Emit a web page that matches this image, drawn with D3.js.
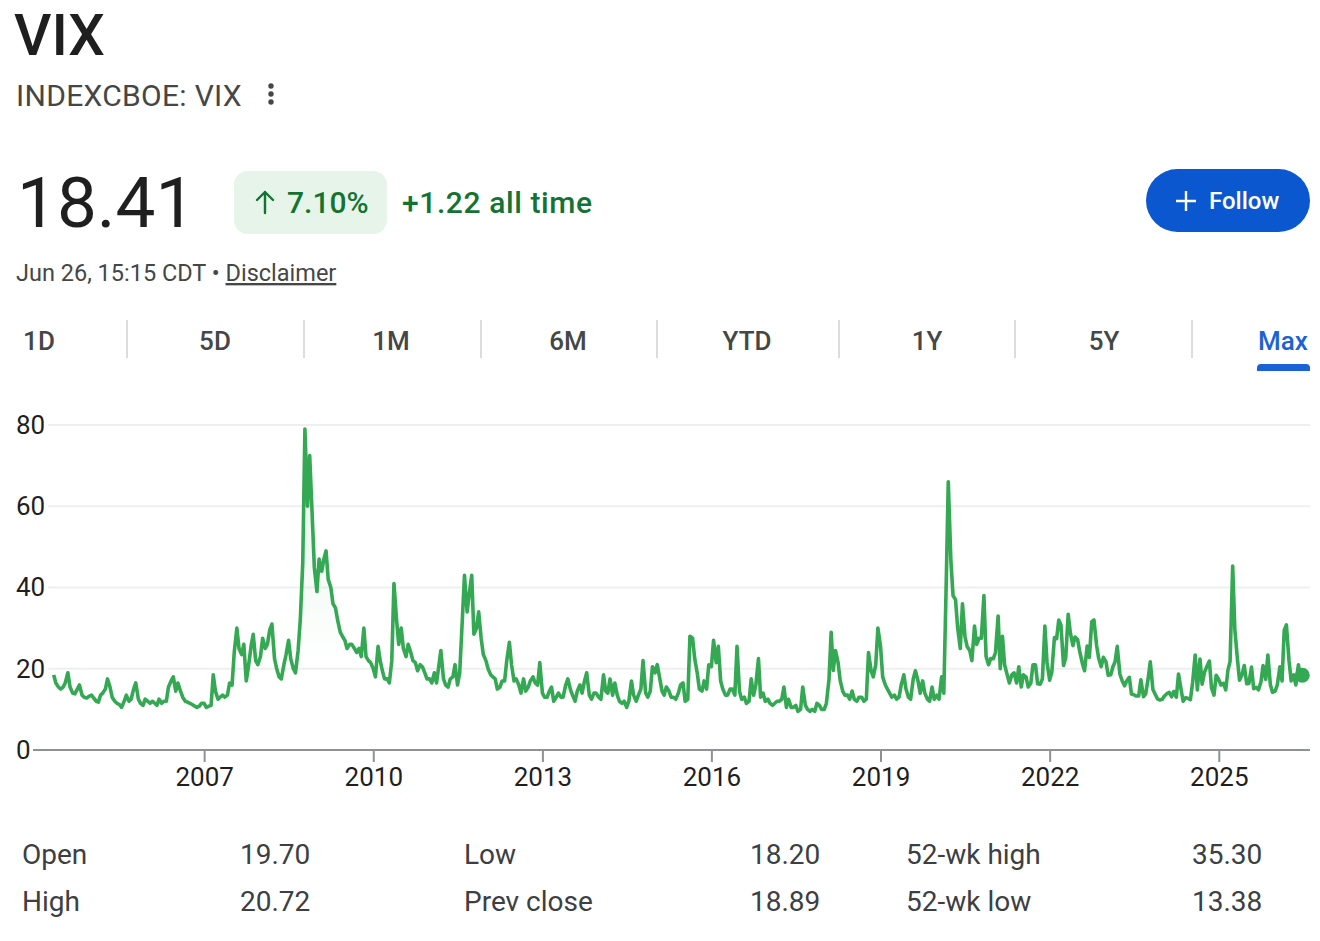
<!DOCTYPE html>
<html>
<head>
<meta charset="utf-8">
<script src="https://cdn.jsdelivr.net/npm/d3@7"></script>
<style>
body { margin: 0; background: #fff; }
text { font-family: Roboto, "Noto Sans", Arial, sans-serif; }
</style>
</head>
<body>
<script>
// VIX closes, two per month (1st and 15th)
var vix2004 = [18.5, 16.5, 15.5, 15.0, 15.5, 16.5, 19.0, 15.5, 14.0, 13.8, 15.0, 16.0, 13.5, 13.0, 12.8, 13.2]; // from May
var vix2005 = [13.5, 12.8, 12.0, 11.8, 13.5, 14.0, 15.0, 17.5, 15.5, 13.0, 12.0, 11.5, 11.2, 10.5, 12.0, 13.5, 12.0, 12.5, 15.0, 16.5, 12.5, 11.5, 11.0, 12.5];
var vix2006 = [12.0, 11.5, 12.0, 11.5, 11.0, 12.5, 11.5, 12.0, 12.0, 15.5, 17.0, 18.0, 14.5, 16.5, 14.5, 13.0, 12.0, 11.8, 11.5, 11.2, 10.8, 10.5, 10.8, 11.5];
var vix2007 = [11.5, 10.5, 10.8, 11.0, 18.5, 14.5, 12.5, 13.0, 13.5, 13.0, 13.5, 16.5, 16.0, 24.0, 30.0, 25.0, 23.5, 26.0, 17.0, 20.5, 25.5, 28.5, 22.0, 21.0];
var vix2008 = [23.0, 27.5, 25.0, 26.0, 29.5, 31.0, 22.5, 20.0, 18.0, 17.5, 21.0, 23.5, 27.0, 22.5, 20.0, 19.0, 24.5, 32.0, 46.0, 79.0, 60.0, 72.5, 58.0, 45.0];
var vix2009 = [39.0, 47.0, 44.0, 47.0, 49.0, 42.0, 40.0, 36.0, 35.0, 32.0, 29.0, 28.0, 27.0, 25.0, 26.0, 26.0, 25.0, 24.0, 25.0, 23.0, 30.0, 23.0, 22.0, 21.5];
var vix2010 = [20.0, 18.0, 25.5, 22.0, 19.5, 17.5, 17.5, 16.5, 22.0, 41.0, 32.0, 26.0, 30.0, 25.0, 23.0, 26.0, 24.0, 22.0, 21.5, 19.5, 21.0, 20.5, 19.0, 17.5];
var vix2011 = [17.5, 16.5, 19.0, 16.5, 20.5, 24.5, 17.5, 16.0, 15.5, 17.5, 18.0, 21.0, 16.0, 19.0, 32.0, 43.0, 34.0, 38.5, 43.0, 28.5, 30.0, 34.0, 27.5, 23.5];
var vix2012 = [22.0, 20.0, 18.5, 18.0, 17.5, 15.0, 15.5, 17.0, 17.0, 22.0, 26.5, 21.0, 17.0, 17.5, 16.0, 14.0, 17.5, 14.5, 15.5, 17.0, 18.0, 16.5, 16.0, 21.5];
var vix2013 = [14.0, 13.0, 13.0, 14.5, 15.5, 12.0, 13.0, 14.0, 13.0, 13.0, 16.0, 17.5, 15.0, 13.5, 12.0, 14.5, 16.0, 14.0, 17.0, 19.0, 13.5, 12.5, 14.0, 14.0];
var vix2014 = [13.0, 12.5, 18.5, 14.5, 14.0, 17.5, 13.5, 16.5, 13.5, 12.0, 11.5, 12.0, 10.5, 12.0, 17.0, 13.5, 12.0, 13.5, 15.0, 22.0, 14.0, 13.0, 14.5, 20.5];
var vix2015 = [19.0, 21.0, 17.5, 14.5, 13.5, 15.5, 14.5, 13.0, 13.0, 12.5, 14.0, 16.0, 16.5, 12.0, 12.5, 28.0, 27.5, 22.5, 19.0, 15.0, 14.5, 17.0, 15.0, 21.0];
var vix2016 = [20.5, 27.0, 21.5, 25.5, 17.0, 15.0, 13.5, 13.5, 15.0, 15.0, 13.5, 25.5, 14.5, 12.5, 13.0, 11.5, 12.0, 17.5, 13.5, 16.0, 22.5, 13.0, 14.0, 12.0];
var vix2017 = [12.5, 11.5, 11.0, 11.5, 12.0, 12.0, 12.5, 15.5, 10.5, 12.5, 10.5, 10.5, 11.0, 9.5, 10.0, 15.5, 11.0, 10.0, 9.5, 10.0, 9.5, 11.5, 11.0, 10.0];
var vix2018 = [10.0, 11.5, 17.3, 29.0, 19.6, 24.5, 21.5, 17.0, 14.5, 13.5, 13.5, 12.5, 14.5, 12.5, 12.0, 13.0, 13.0, 12.0, 12.5, 24.0, 19.5, 18.0, 21.0, 30.0];
var vix2019 = [25.5, 18.0, 16.0, 15.0, 14.0, 13.0, 13.5, 12.5, 13.0, 16.0, 18.5, 15.0, 13.0, 12.5, 17.5, 19.5, 17.0, 14.0, 17.0, 14.0, 12.5, 12.0, 15.5, 12.5];
var vix2020 = [13.5, 12.5, 18.0, 14.0, 40.0, 66.0, 46.5, 38.0, 37.0, 30.0, 25.0, 36.0, 28.0, 25.5, 24.5, 22.0, 30.5, 26.0, 27.5, 27.5, 38.0, 23.0, 21.0, 22.5];
var vix2021 = [22.5, 24.0, 33.0, 20.0, 28.0, 21.0, 18.5, 16.5, 18.5, 19.0, 16.5, 20.5, 15.5, 18.5, 18.0, 15.5, 16.5, 21.0, 21.0, 16.3, 16.2, 17.5, 30.5, 21.5];
var vix2022 = [17.2, 19.2, 27.7, 27.4, 32.0, 30.8, 20.8, 22.7, 33.4, 28.9, 25.7, 27.8, 27.2, 24.2, 21.3, 19.5, 25.6, 22.8, 31.6, 32.0, 25.8, 22.5, 20.5, 22.8];
var vix2023 = [21.7, 18.4, 18.5, 20.5, 21.7, 25.5, 18.7, 17.1, 15.8, 17.0, 17.9, 13.8, 13.6, 13.3, 13.3, 17.3, 13.1, 13.8, 17.5, 21.7, 14.9, 13.8, 12.6, 12.3];
var vix2024 = [12.5, 13.3, 13.9, 14.2, 13.1, 14.4, 13.0, 18.7, 15.0, 12.0, 12.9, 12.7, 12.4, 16.5, 23.4, 14.8, 22.4, 16.2, 19.2, 20.5, 21.9, 15.2, 13.5, 18.4];
var vix2025 = [17.3, 16.0, 16.4, 14.8, 19.6, 21.8, 45.3, 29.7, 22.7, 17.2, 18.6, 20.8, 16.3, 16.4, 20.4, 15.1, 15.4, 14.8, 16.7, 20.8, 17.4, 23.4, 16.1, 14.2];
var vix2026 = [14.5, 16.0, 20.5, 17.0, 29.5, 30.8, 22.0, 17.0, 18.5, 16.0, 21.0, 17.5]; // to mid June
var lastDate = new Date(2026, 5, 26);
var lastClose = 18.41;

var yTicks = [0, 20, 40, 60, 80];
var xTickYears = [2007, 2010, 2013, 2016, 2019, 2022, 2025];
var tabs = ["1D", "5D", "1M", "6M", "YTD", "1Y", "5Y", "Max"];
var statLabels = [["Open", "High"], ["Low", "Prev close"], ["52-wk high", "52-wk low"]];
var statValues = [["19.70", "20.72"], ["18.20", "18.89"], ["35.30", "13.38"]];

var yearly = [
    [2004, 4, vix2004], [2005, 0, vix2005], [2006, 0, vix2006], [2007, 0, vix2007],
    [2008, 0, vix2008], [2009, 0, vix2009], [2010, 0, vix2010], [2011, 0, vix2011],
    [2012, 0, vix2012], [2013, 0, vix2013], [2014, 0, vix2014], [2015, 0, vix2015],
    [2016, 0, vix2016], [2017, 0, vix2017], [2018, 0, vix2018], [2019, 0, vix2019],
    [2020, 0, vix2020], [2021, 0, vix2021], [2022, 0, vix2022], [2023, 0, vix2023],
    [2024, 0, vix2024], [2025, 0, vix2025], [2026, 0, vix2026]
];

var series = [];
yearly.forEach(function(yr) {
    yr[2].forEach(function(v, i) {
        series.push({date: new Date(yr[0], yr[1] + Math.floor(i / 2), i % 2 ? 15 : 1), value: v});
    });
});
series.push({date: lastDate, value: lastClose});

var w = 1320;
var h = 941;
var green = "#34a853";
var upText = "#137333";
var ink = "#1f1f1f";
var grey = "#444746";

var svg = d3.select("body")
            .append("svg")
                .attr("width", w)
                .attr("height", h);

// ---- header ----
svg.append("text").text("VIX")
    .attr("x", 14).attr("y", 55)
    .attr("font-size", 58).attr("font-weight", 500).attr("fill", ink);

svg.append("text").text("INDEXCBOE: VIX")
    .attr("x", 16).attr("y", 106)
    .attr("font-size", 30).attr("letter-spacing", 0.3).attr("fill", grey);

svg.selectAll("circle.dot")
    .data([86, 94, 102])
    .enter()
    .append("circle")
        .attr("class", "dot")
        .attr("cx", 271).attr("cy", function(d) {return d;})
        .attr("r", 2.7).attr("fill", grey);

svg.append("text").text("18.41")
    .attr("x", 17).attr("y", 227)
    .attr("font-size", 71).attr("fill", ink);

svg.append("rect")
    .attr("x", 234).attr("y", 171).attr("width", 153).attr("height", 63)
    .attr("rx", 14).attr("fill", "#e6f4ea");

svg.append("path")
    .attr("d", "M265,213V192M257,200L265,192L273,200")
    .attr("fill", "none").attr("stroke", upText)
    .attr("stroke-width", 2.4).attr("stroke-linecap", "round").attr("stroke-linejoin", "round");

svg.append("text").text("7.10%")
    .attr("x", 287).attr("y", 213)
    .attr("font-size", 30).attr("font-weight", 500).attr("fill", upText);

svg.append("text").text("+1.22 all time")
    .attr("x", 402).attr("y", 213)
    .attr("font-size", 30).attr("font-weight", 500).attr("letter-spacing", 0.6).attr("fill", upText);

svg.append("rect")
    .attr("x", 1146).attr("y", 169).attr("width", 164).attr("height", 63)
    .attr("rx", 31.5).attr("fill", "#0b57d0");

svg.append("path")
    .attr("d", "M1176,201H1196M1186,191V211")
    .attr("stroke", "#fff").attr("stroke-width", 2.4);

svg.append("text").text("Follow")
    .attr("x", 1209).attr("y", 209)
    .attr("font-size", 24).attr("font-weight", 500).attr("fill", "#fff");

var stamp = svg.append("text")
    .attr("x", 16).attr("y", 281)
    .attr("font-size", 23.5).attr("fill", grey);
stamp.append("tspan").text("Jun 26, 15:15 CDT \u2022 ");
stamp.append("tspan").text("Disclaimer").attr("text-decoration", "underline");

// ---- range tabs ----
var tabX = [39, 215, 391, 568, 747, 927, 1104, 1283];
var sepX = [127, 304, 481, 657, 839, 1015, 1192];

svg.selectAll("text.tab")
    .data(tabs)
    .enter()
    .append("text")
    .attr("class", "tab")
    .text(function(d) {return d;})
        .attr("x", function(d, i) {return tabX[i];})
        .attr("y", 350)
        .attr("text-anchor", "middle")
        .attr("font-size", 26)
        .attr("font-weight", 500)
        .attr("fill", function(d) {return d == "Max" ? "#1a62d6" : grey;});

svg.selectAll("line.sep")
    .data(sepX)
    .enter()
    .append("line")
        .attr("class", "sep")
        .attr("x1", function(d) {return d;}).attr("x2", function(d) {return d;})
        .attr("y1", 320).attr("y2", 358)
        .attr("stroke", "#dadce0").attr("stroke-width", 2);

svg.append("path")
    .attr("d", "M1257,371V368a4,4 0 0 1 4,-4H1306a4,4 0 0 1 4,4V371Z")
    .attr("fill", "#1a62d6");

// ---- chart ----
var x = d3.scaleTime()
    .domain([new Date(2004, 0, 1), new Date(2026, 7, 15)])
    .range([35, 1310]);

var y = d3.scaleLinear()
    .domain([0, 80])
    .range([750, 425]);

svg.selectAll("line.grid")
    .data(yTicks.filter(function(d) {return d > 0;}))
    .enter()
    .append("line")
        .attr("class", "grid")
        .attr("x1", 48).attr("x2", 1310)
        .attr("y1", function(d) {return y(d);})
        .attr("y2", function(d) {return y(d);})
        .attr("stroke", "#efefef").attr("stroke-width", 2);

var yAxis = svg.append("g")
    .attr("transform", "translate(16,0)")
    .call(d3.axisRight(y).tickValues(yTicks).tickSize(0).tickPadding(0));
yAxis.select(".domain").remove();
yAxis.selectAll("text")
    .attr("font-size", 26).attr("fill", ink)
    .attr("font-family", "Roboto, 'Noto Sans', sans-serif");

var grad = svg.append("defs").append("linearGradient")
    .attr("id", "fade")
    .attr("gradientUnits", "userSpaceOnUse")
    .attr("x1", 0).attr("x2", 0)
    .attr("y1", y(80)).attr("y2", y(0));
grad.append("stop").attr("offset", "0%").attr("stop-color", green).attr("stop-opacity", 0.13);
grad.append("stop").attr("offset", "75%").attr("stop-color", green).attr("stop-opacity", 0);

var area = d3.area()
    .x(function(d) {return x(d.date);})
    .y0(y(0))
    .y1(function(d) {return y(d.value);});

var line = d3.line()
    .x(function(d) {return x(d.date);})
    .y(function(d) {return y(d.value);});

svg.append("path")
    .datum(series)
    .attr("d", area)
    .attr("fill", "url(#fade)");

svg.append("line")
    .attr("x1", 33).attr("x2", 1310)
    .attr("y1", y(0)).attr("y2", y(0))
    .attr("stroke", "#8e9297").attr("stroke-width", 2);

var xAxis = svg.append("g")
    .attr("transform", "translate(0," + y(0) + ")")
    .call(d3.axisBottom(x)
        .tickValues(xTickYears.map(function(d) {return new Date(d, 0, 1);}))
        .tickFormat(d3.timeFormat("%Y"))
        .tickSize(12)
        .tickSizeOuter(0)
        .tickPadding(6));
xAxis.select(".domain").remove();
xAxis.selectAll("line").attr("stroke", "#8e9297").attr("stroke-width", 2);
xAxis.selectAll("text")
    .attr("font-size", 26).attr("fill", ink)
    .attr("font-family", "Roboto, 'Noto Sans', sans-serif");

svg.append("path")
    .datum(series)
    .attr("d", line)
    .attr("fill", "none")
    .attr("stroke", green)
    .attr("stroke-width", 3.6)
    .attr("stroke-linejoin", "round");

svg.append("circle")
    .attr("cx", x(lastDate)).attr("cy", y(lastClose))
    .attr("r", 7.5).attr("fill", green);

// ---- stats ----
var labelX = [22, 464, 906];
var valueX = [240, 750, 1192];
var rowY = [864, 911];

statLabels.forEach(function(col, c) {
    col.forEach(function(lbl, r) {
        svg.append("text").text(lbl)
            .attr("x", labelX[c]).attr("y", rowY[r])
            .attr("font-size", 28).attr("fill", "#3c4043");
        svg.append("text").text(statValues[c][r])
            .attr("x", valueX[c]).attr("y", rowY[r])
            .attr("font-size", 28).attr("fill", "#3c4043");
    });
});
</script>
</body>
</html>
